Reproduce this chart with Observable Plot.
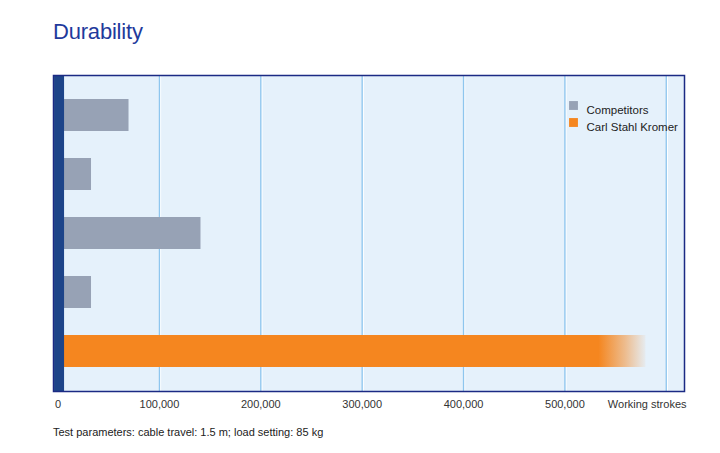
<!DOCTYPE html>
<html>
<head>
<meta charset="utf-8">
<script src="https://cdn.jsdelivr.net/npm/d3@7"></script>
<script src="https://cdn.jsdelivr.net/npm/@observablehq/plot@0.6"></script>
<style>
  html, body { margin: 0; padding: 0; background: #fff; }
  #wrap { position: relative; width: 720px; height: 453px; font-family: "Liberation Sans", Arial, Helvetica, sans-serif; }
  #title { position: absolute; left: 53px; top: 19px; font-size: 22px; color: #1f3a9c; letter-spacing: -0.2px; }
  #caption { position: absolute; left: 53px; top: 426px; font-size: 11px; color: #222; }
  #chart { position: absolute; left: 0; top: 0; }
</style>
</head>
<body>
<div id="wrap">
  <div id="chart"></div>
  <div id="title">Durability</div>
  <div id="caption">Test parameters: cable travel: 1.5 m; load setting: 85 kg</div>
</div>
<script>
// Data
const products = ["Competitor 1", "Competitor 2", "Competitor 3", "Competitor 4", "Carl Stahl Kromer"];
const groups = ["Competitors", "Competitors", "Competitors", "Competitors", "Carl Stahl Kromer"];
const strokes = [70000, 33000, 141000, 33000, 580000];
const legendLabels = ["Competitors", "Carl Stahl Kromer"];
const tickValues = [0, 100000, 200000, 300000, 400000, 500000];
const gridValues = [100000, 200000, 300000, 400000, 500000, 600000];
const xLabel = "Working strokes";

const table = products.map((p, i) => ({product: p, group: groups[i], value: strokes[i]}));
const colors = {"Competitors": "#97a2b5", "Carl Stahl Kromer": "#f5861f"};

const legendMarks = legendLabels.flatMap((label, i) => [
  Plot.dot([label], {
    frameAnchor: "top-right", dx: -111, dy: 30 + i * 17,
    symbol: "square", r: 5, fill: colors[label], stroke: null
  }),
  Plot.text([label], {
    text: d => d, frameAnchor: "top-right", dx: -98, dy: 30 + i * 17,
    textAnchor: "start", fill: "#222", fontSize: 11.5
  })
]);

const plot = Plot.plot({
  width: 720,
  height: 453,
  marginLeft: 53,
  marginRight: 36,
  marginTop: 75,
  marginBottom: 62,
  style: {fontFamily: "'Liberation Sans', Arial, Helvetica, sans-serif", fontSize: "11px", color: "#333", background: "transparent"},
  x: {domain: [-4500, 618000], axis: null},
  y: {domain: products, paddingInner: 0.458, paddingOuter: 0.407, round: false, axis: null},
  marks: [
    Plot.frame({fill: "#e5f1fb", stroke: null}),
    Plot.ruleX(gridValues, {stroke: "#ffffff", strokeWidth: 1, dx: 1.2}),
    Plot.ruleX(gridValues, {stroke: "#8ec6ee", strokeWidth: 1.3}),
    Plot.barX(table, {
      x1: 0, x2: "value", y: "product",
      fill: d => d.group === "Competitors" ? colors["Competitors"] : "url(#fadeOrange)"
    }),
    Plot.ruleX([0], {stroke: "#1d4489", strokeWidth: 10, dx: 1}),
    Plot.frame({stroke: "#1b2a84", strokeWidth: 1.5}),
    Plot.text(tickValues, {
      x: d => d, text: d => d3.format(",")(d),
      frameAnchor: "bottom", dy: 16, fill: "#333", fontSize: 11
    }),
    Plot.text([xLabel], {
      text: d => d, frameAnchor: "bottom-right", dx: 2, dy: 16, textAnchor: "end", fill: "#333", fontSize: 11
    }),
    ...legendMarks
  ]
});

// gradient for the fading orange bar
const ns = "http://www.w3.org/2000/svg";
const defs = document.createElementNS(ns, "defs");
defs.innerHTML = `<linearGradient id="fadeOrange" x1="0" x2="1" y1="0" y2="0">
  <stop offset="0" stop-color="#f5861f" stop-opacity="1"/>
  <stop offset="0.92" stop-color="#f5861f" stop-opacity="1"/>
  <stop offset="0.965" stop-color="#f5861f" stop-opacity="0.5"/>
  <stop offset="1" stop-color="#f5861f" stop-opacity="0.05"/>
</linearGradient>`;
plot.insertBefore(defs, plot.firstChild);
document.getElementById("chart").appendChild(plot);
</script>
</body>
</html>
